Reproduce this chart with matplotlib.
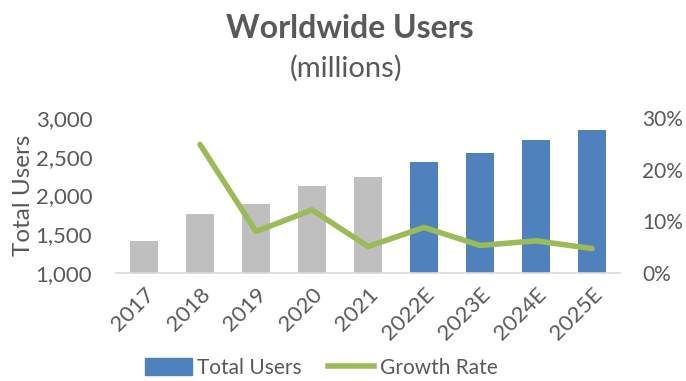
import numpy as np
import matplotlib.pyplot as plt
from matplotlib.patches import Patch
from matplotlib.lines import Line2D

plt.rcParams['font.family'] = ['Lato', 'DejaVu Sans']

years = ['2017', '2018', '2019', '2020', '2021', '2022E', '2023E', '2024E', '2025E']
users = [1412, 1762, 1892, 2126, 2243, 2434, 2555, 2720, 2850]
growth = [np.nan, 24.9, 8.0, 12.2, 5.1, 8.8, 5.3, 6.2, 4.7]  # percent
estimate = [False, False, False, False, False, True, True, True, True]

txt = '#595959'
gray = '#BFBFBF'
blue = '#4F81BD'
green = '#9BBB59'

fig = plt.figure(figsize=(6.86, 3.81), dpi=100)
ax = fig.add_axes([0.169, 0.284, 0.735, 0.406])
x = np.arange(len(years))
cols = [blue if e else gray for e in estimate]
ax.bar(x, np.array(users) - 1000, bottom=1000, width=0.51, color=cols, zorder=2)
ax.set_ylim(1000, 3000)
ax.set_xlim(-0.5, len(years) - 0.5)
ax.set_yticks([1000, 1500, 2000, 2500, 3000])
ax.set_yticklabels(['1,000', '1,500', '2,000', '2,500', '3,000'])
ax.set_xticks(x)
ax.set_xticklabels(years, rotation=45, ha='right', rotation_mode='anchor')
ax.tick_params(axis='both', length=0, labelsize=16, colors=txt)
ax.tick_params(axis='x', pad=8)
ax.tick_params(axis='y', pad=17)
for s in ['top', 'right', 'left']:
    ax.spines[s].set_visible(False)
ax.spines['bottom'].set_color('#D9D9D9')
ax.spines['bottom'].set_linewidth(1.2)
ax.set_ylabel('Total Users', fontsize=17.5, color=txt, labelpad=1)

ax2 = ax.twinx()
ax2.plot(x, growth, color=green, lw=4, solid_capstyle='round', solid_joinstyle='round', zorder=3)
ax2.set_ylim(0, 30)
ax2.set_yticks([0, 10, 20, 30])
ax2.set_yticklabels(['0%', '10%', '20%', '30%'])
ax2.tick_params(axis='y', length=0, labelsize=15, colors=txt, pad=16)
for s in ax2.spines.values():
    s.set_visible(False)

fig.text(0.51, 0.925, 'Worldwide Users', ha='center', va='center', fontsize=23,
         fontweight='bold', color=txt)
fig.text(0.505, 0.82, '(millions)', ha='center', va='center', fontsize=21, color=txt)

handles = [Patch(color=blue), Line2D([0], [0], color=green, lw=4)]
fig.legend(handles, ['Total Users', 'Growth Rate'], loc='center', bbox_to_anchor=(0.468, 0.035),
           ncol=2, frameon=False, fontsize=15, labelcolor=txt, handlelength=2.25,
           handleheight=0.9, columnspacing=1.25, handletextpad=0.25)

fig.savefig('out.png', dpi=100)
